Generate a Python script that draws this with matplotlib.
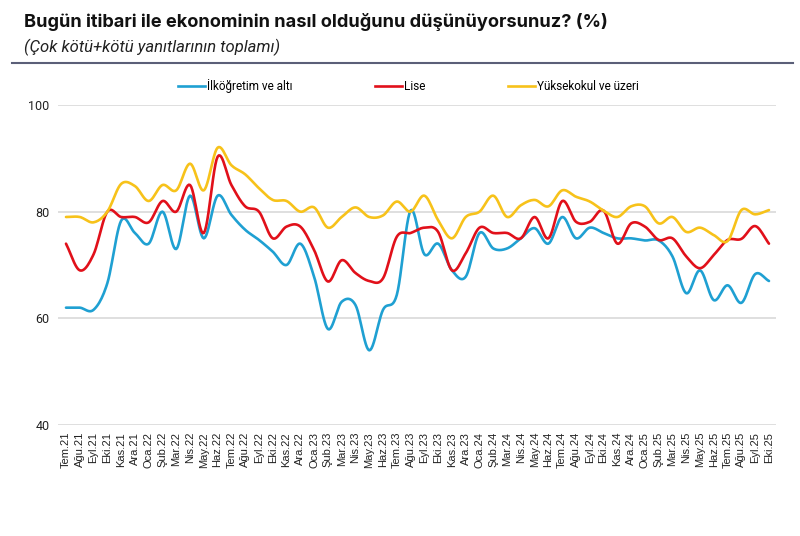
import numpy as np
import matplotlib.pyplot as plt
from matplotlib.lines import Line2D

months = ["Tem.21", "Ağu.21", "Eyl.21", "Eki.21", "Kas.21", "Ara.21",
          "Oca.22", "Şub.22", "Mar.22", "Nis.22", "May.22", "Haz.22",
          "Tem.22", "Ağu.22", "Eyl.22", "Eki.22", "Kas.22", "Ara.22",
          "Oca.23", "Şub.23", "Mar.23", "Nis.23", "May.23", "Haz.23",
          "Tem.23", "Ağu.23", "Eyl.23", "Eki.23", "Kas.23", "Ara.23",
          "Oca.24", "Şub.24", "Mar.24", "Nis.24", "May.24", "Haz.24",
          "Tem.24", "Ağu.24", "Eyl.24", "Eki.24", "Kas.24", "Ara.24",
          "Oca.25", "Şub.25", "Mar.25", "Nis.25", "May.25", "Haz.25",
          "Tem.25", "Ağu.25", "Eyl.25", "Eki.25"]

ilkogretim = [62, 62, 61.6, 66.6, 78.3, 76, 74, 80, 73, 83, 75, 83,
              79.4, 76.6, 74.7, 72.5, 70, 74, 67.8, 58, 63.1, 62.5, 54, 61.6,
              64.4, 80.2, 72, 74, 69, 67.8, 76, 73.1, 73.1, 75, 76.9, 74,
              79, 75, 77, 76, 75, 75, 74.6, 74.6, 71.6, 64.7, 69, 63.4,
              66.2, 62.9, 68.3, 67]
lise = [74, 69, 72, 80, 79, 79, 78, 82, 80, 85, 76, 90.3,
        85, 81, 80, 75, 77.2, 77.2, 72.8, 66.9, 70.9, 68.5, 67, 67.5,
        75.3, 76, 77, 76.2, 69, 72.2, 77, 76, 76, 75, 79, 75,
        82, 78.1, 78.1, 80.2, 74, 77.8, 77.2, 74.7, 75, 71.6, 69.4, 71.9,
        74.7, 74.9, 77.3, 74]
yuksekokul = [79, 79, 78, 80, 85.2, 84.8, 82, 85, 84, 89, 84, 92,
              88.7, 87, 84.4, 82.2, 82, 80, 80.8, 77, 79, 80.8, 79, 79.3,
              81.9, 80, 83, 78.4, 75, 79, 80, 83, 79, 81.2, 82.2, 81,
              84, 82.8, 81.9, 80.2, 79, 81, 81, 77.8, 79, 76.2, 77, 75.6,
              74.5, 80.3, 79.5, 80.3]

series = [("İlköğretim ve altı", ilkogretim, "#1fa0d2"),
          ("Lise", lise, "#e1101a"),
          ("Yüksekokul ve üzeri", yuksekokul, "#f7c21a")]


def smooth(y, n=12):
    # catmull-rom curve through the points, only for drawing
    y = np.asarray(y, float)
    p = np.concatenate([[2 * y[0] - y[1]], y, [2 * y[-1] - y[-2]]])
    t = np.linspace(0, 1, n, endpoint=False)
    xs, ys = [], []
    for i in range(len(y) - 1):
        p0, p1, p2, p3 = p[i:i + 4]
        ys.append(0.5 * (2 * p1 + (-p0 + p2) * t
                         + (2 * p0 - 5 * p1 + 4 * p2 - p3) * t ** 2
                         + (-p0 + 3 * p1 - 3 * p2 + p3) * t ** 3))
        xs.append(i + t)
    xs.append([len(y) - 1])
    ys.append([y[-1]])
    return np.concatenate(xs), np.concatenate(ys)


fig = plt.figure(figsize=(8, 5.36), dpi=100)
ax = fig.add_axes([0.0725, 0.2071, 0.8975, 0.597])

for name, vals, col in series:
    sx, sy = smooth(vals)
    ax.plot(sx, sy, color=col, lw=1.9, solid_capstyle="round", zorder=3)

ax.set_ylim(40, 100)
ax.set_xlim(-0.58, len(months) - 1 + 0.51)
ax.set_yticks([40, 60, 80, 100])
ax.set_xticks(range(len(months)))
ax.set_xticklabels(months, rotation=90, fontsize=8, family="Liberation Sans", color="#222222")
for lab in ax.get_yticklabels():
    lab.set_family("Roboto")
    lab.set_fontsize(9)
    lab.set_color("#222222")
ax.tick_params(length=0, pad=6)
ax.tick_params(axis="x", pad=5)
ax.grid(axis="y", color="#dcdcdc", lw=1.3)
ax.set_axisbelow(True)
for s in ax.spines.values():
    s.set_visible(False)

handles = [Line2D([], [], color=c, lw=1.9) for _, _, c in series]
fig.legend(handles, [n for n, _, _ in series], loc="center",
           bbox_to_anchor=(0.51, 0.8396), ncol=3, frameon=False,
           prop={"family": "Roboto", "size": 8.5}, handlelength=2.3,
           handletextpad=0.15, columnspacing=7.0)

fig.text(0.03, 1 - 27 / 536, "Bugün itibari ile ekonominin nasıl olduğunu düşünüyorsunuz? (%)",
         family="Inter", weight="bold", fontsize=13.1, color="#111111")
fig.text(0.03, 1 - 52 / 536, "(Çok kötü+kötü yanıtlarının toplamı)",
         family="Roboto", style="italic", fontsize=12, color="#222222")
fig.add_artist(Line2D([12 / 800, 793 / 800], [1 - 63 / 536, 1 - 63 / 536],
                      color="#5b5f78", lw=1.5))

fig.savefig("out.png", dpi=100)
